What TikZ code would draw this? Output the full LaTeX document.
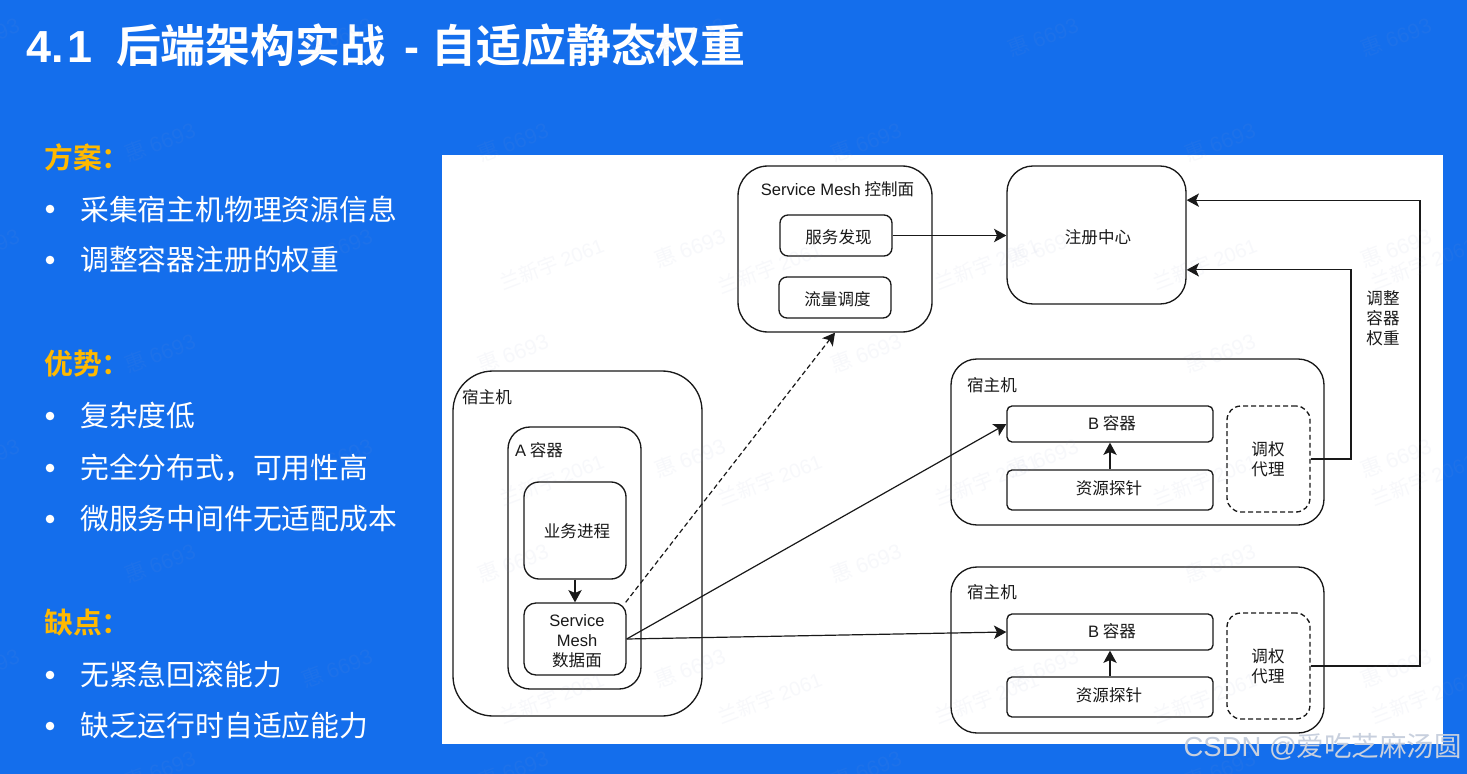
\documentclass[tikz,border=0pt]{standalone}
\usepackage{fontspec}
\setmainfont{Liberation Sans}
\newfontfamily\cjk{Noto Sans CJK SC}
\newfontfamily\cjkb{Noto Sans CJK SC Bold}[BoldFont={Noto Sans CJK SC Bold}]
\usetikzlibrary{arrows.meta,calc}
\definecolor{slide}{RGB}{20,110,236}
\definecolor{gold}{RGB}{255,185,0}
\definecolor{wmark}{RGB}{150,160,200}
\definecolor{ink}{RGB}{25,25,25}
\definecolor{csdnc}{RGB}{200,208,222}
\tikzset{
  boxb/.style={draw=ink,line width=1pt,inner sep=0pt},
  dashb/.style={dash pattern=on 3.7pt off 2.3pt},
  flow/.style={draw=ink,line width=0.9pt,-{Stealth[length=9.2pt,width=10pt,inset=2.2pt]}},
  lbl/.style={inner sep=0pt,text=ink,align=center,font=\fontsize{12.4}{15}\selectfont\cjk},
  body/.style={inner sep=0pt,anchor=west,text=white,font=\fontsize{21.6}{26}\selectfont\cjk},
  head/.style={inner sep=0pt,anchor=west,text=gold,font=\fontsize{21.6}{26}\selectfont\cjkb},
  wm/.style={inner sep=0pt,rotate=21,text=wmark,opacity=0.07,font=\fontsize{16}{20}\selectfont\cjk},
}
% \bx{name}{x1}{y1}{x2}{y2}{radius}{extra}
\newcommand{\bx}[7]{%
  \pgfmathsetmacro{\bw}{(#4-#2)*0.75}%
  \pgfmathsetmacro{\bh}{(#5-#3)*0.75}%
  \pgfmathsetmacro{\br}{#6*0.75}%
  \node[boxb,rounded corners=\br pt,minimum width=\bw pt,minimum height=\bh pt,#7] (#1) at ({(#2+#4)/2},{(#3+#5)/2}) {};%
}
\newcommand{\blt}[3]{%
  \fill[white] (50,#2) circle[radius=4.3];
  \node[body] (#1) at (80,#2) {#3};%
}
\begin{document}
\begin{tikzpicture}[x=0.75pt,y=-0.75pt]
\useasboundingbox (0,0) rectangle (1467,774);
\fill[slide] (0,0) rectangle (1467,774);
\fill[white] (442,155) rectangle (1443,744);

% title
\node[inner sep=0pt,anchor=west,text=white] (title) at (26,45)
  {\fontsize{33.7}{38}\selectfont\bfseries 4.\hspace{2.5pt}1\hspace{18pt}{\cjkb 后端架构实战}\hspace{14pt}-\hspace{9pt}{\cjkb 自适应静态权重}};

% left column
\node[head] (h1) at (44,157) {方案：};
\blt{a1}{209}{采集宿主机物理资源信息}
\blt{a2}{260}{调整容器注册的权重}
\node[head] (h2) at (44,364) {优势：};
\blt{b1}{416}{复杂度低}
\blt{b2}{468}{完全分布式，可用性高}
\blt{b3}{519}{微服务中间件无适配成本}
\node[head] (h3) at (44,623) {缺点：};
\blt{c1}{675}{无紧急回滚能力}
\blt{c2}{726}{缺乏运行时自适应能力}

% control plane
\bx{cp}{738}{166}{932}{332}{30}{}
\node[lbl] (cpl) at (837.5,189) {{\rmfamily Service Mesh} 控制面};
\bx{disc}{780}{215}{892}{256}{8}{}
\node[lbl] (disct) at (838.5,237) {服务发现};
\bx{traf}{779}{277}{891}{318}{8}{}
\node[lbl] (traft) at (837.5,299) {流量调度};
\bx{reg}{1007}{166}{1186}{304}{26}{}
\node[lbl] (regt) at (1098,237) {注册中心};

% left host
\bx{ha}{453}{371}{702}{716}{40}{}
\node[lbl] (hal) at (487,397) {宿主机};
\bx{ca}{508}{427}{641}{689}{22}{}
\node[lbl] (cal) at (539,450) {{\rmfamily A} 容器};
\bx{biz}{524}{482}{626}{579}{15}{}
\node[lbl] (bizt) at (577,531) {业务进程};
\bx{dp}{524}{603}{626}{675}{12}{}
\node[lbl] (dpt) at (577,641) {{\rmfamily Service}\\{\rmfamily Mesh}\\数据面};

% host B1
\bx{hb}{951}{359}{1324}{525}{26}{}
\node[lbl] (hbl) at (992,385) {宿主机};
\bx{cb}{1007}{406}{1213}{442}{5}{}
\node[lbl] (cbt) at (1112,423) {{\rmfamily B} 容器};
\bx{pb}{1007}{470}{1213}{510}{5}{}
\node[lbl] (pbt) at (1109,488) {资源探针};
\bx{wb}{1227}{406}{1310}{512}{14}{dashb}
\node[lbl] (wbt) at (1268,459) {调权\\代理};

% host B2
\bx{hc}{951}{567}{1324}{733}{26}{}
\node[lbl] (hcl) at (992,592) {宿主机};
\bx{cc}{1007}{614}{1213}{650}{5}{}
\node[lbl] (cct) at (1112,631) {{\rmfamily B} 容器};
\bx{pc}{1007}{677}{1213}{717}{5}{}
\node[lbl] (pct) at (1109,695) {资源探针};
\bx{wc}{1227}{613}{1310}{719}{14}{dashb}
\node[lbl] (wct) at (1268,666) {调权\\代理};

\node[lbl] (adj) at (1383,318) {调整\\容器\\权重};

% connectors
\draw[flow] (disc.east) -- (disc.east -| reg.west);
\draw[flow] (biz.south) -- (dp.north);
\draw[flow,dashb] ($(dp.north east)+(-1,0)$) -- ($(cp.south west)!0.5!(cp.south east)$);
\draw[flow] (dp.east) -- (cb.west);
\draw[flow] (dp.east) -- (cc.west);
\draw[flow] (pb.north) -- (cb.south);
\draw[flow] (pc.north) -- (cc.south);
\coordinate (r1) at ($(reg.north east)!0.75!(reg.south east)$);
\coordinate (r2) at ($(reg.north east)!0.25!(reg.south east)$);
\coordinate (k1) at (1351,0);
\coordinate (k2) at (1420,0);
\draw[flow] (wb.east) -- (wb.east -| k1) -- (r1 -| k1) -- (r1);
\draw[flow] (wc.east) -- (wc.east -| k2) -- (r2 -| k2) -- (r2);

% watermarks
\foreach \i/\x/\y in {1/1043/37,2/1396/37,3/690/37,4/160/142,5/513/142,6/866/142,7/1220/142,8/337/248,9/690/248,10/1043/248,11/1396/248,12/160/353,13/513/353,14/866/353,15/1220/353,16/337/458,17/690/458,18/1043/458,19/1396/458,20/160/563,21/513/563,22/866/563,23/1220/563,24/337/668,25/690/668,26/1043/668,27/1396/668,28/337/37,29/-16/37,30/-16/248,31/-16/458,32/-16/668,33/160/770,34/513/770,35/866/770,36/1220/770}
  {\node[wm] (w\i) at (\x,\y) {惠 {\rmfamily 6693}};}
\foreach \i/\x/\y in {1/552/264,2/770/268,3/987/264,4/1205/264,5/1423/264,6/552/480,7/770/480,8/987/480,9/1205/480,10/1423/480,11/552/698,12/770/698,13/987/698,14/1205/698,15/1423/698}
  {\node[wm,font=\fontsize{15}{20}\selectfont\cjk] (v\i) at (\x,\y) {兰新宇 {\rmfamily 2061}};}

% CSDN mark
\node[inner sep=0pt,anchor=east,text=csdnc,font=\fontsize{20.6}{24}\selectfont] (csdn) at (1462,747) {CSDN @{\cjk 爱吃芝麻汤圆}};
\end{tikzpicture}
\end{document}
